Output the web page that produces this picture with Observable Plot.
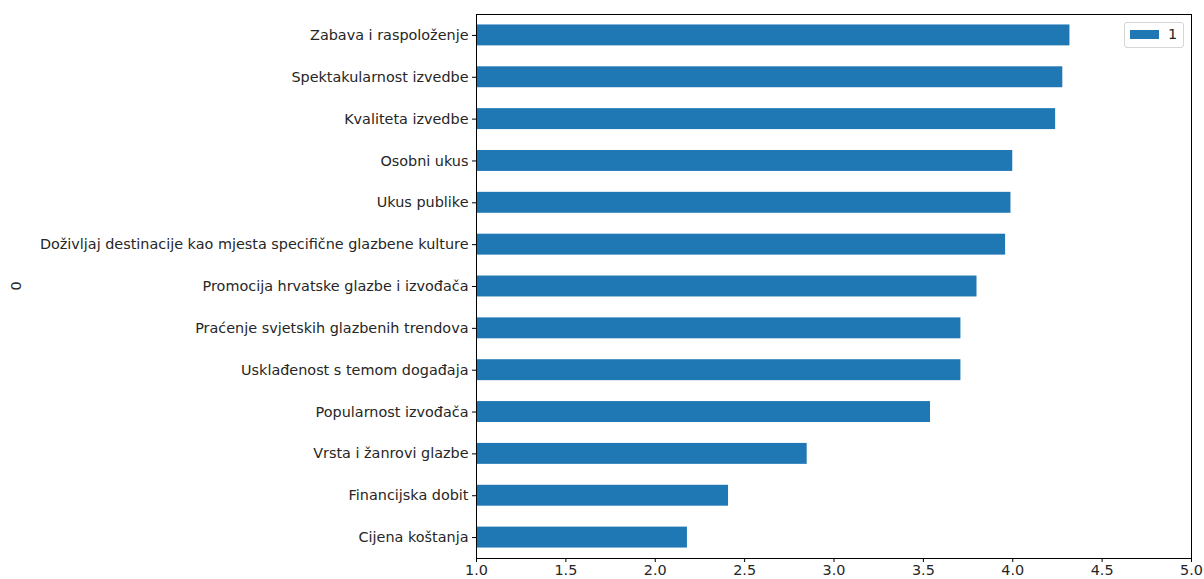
<!DOCTYPE html>
<html>
<head>
<meta charset="utf-8">
<script src="https://cdn.jsdelivr.net/npm/d3@7"></script>
<script src="https://cdn.jsdelivr.net/npm/@observablehq/plot@0.6"></script>
<style>
  html, body { margin: 0; padding: 0; background: #fff; }
  #wrap { position: relative; width: 1204px; height: 579px; }
  #legend {
    position: absolute; left: 1124px; top: 22px; width: 60px; height: 26px;
    border: 1px solid #d6d6d6; border-radius: 3px; background: #fff;
    font: 14.4px "DejaVu Sans", sans-serif; color: #262626; box-sizing: border-box;
  }
  #legend .sw { position: absolute; left: 5px; top: 7px; width: 29px; height: 9px; background: #1f77b4; }
  #legend .lb { position: absolute; left: 43px; top: 3px; line-height: 16px; }
</style>
</head>
<body>
<div id="wrap"></div>
<script>
const categories = [
  "Zabava i raspoloženje",
  "Spektakularnost izvedbe",
  "Kvaliteta izvedbe",
  "Osobni ukus",
  "Ukus publike",
  "Doživljaj destinacije kao mjesta specifične glazbene kulture",
  "Promocija hrvatske glazbe i izvođača",
  "Praćenje svjetskih glazbenih trendova",
  "Usklađenost s temom događaja",
  "Popularnost izvođača",
  "Vrsta i žanrovi glazbe",
  "Financijska dobit",
  "Cijena koštanja"
];
const values = [4.32, 4.28, 4.24, 4.00, 3.99, 3.96, 3.80, 3.71, 3.71, 3.54, 2.85, 2.41, 2.18];
const xTicks = [1.0, 1.5, 2.0, 2.5, 3.0, 3.5, 4.0, 4.5, 5.0];
const seriesName = "1";
const yLabel = "0";

const data = categories.map((c, i) => ({category: c, value: values[i]}));

const chart = Plot.plot({
  width: 1204,
  height: 579,
  marginLeft: 476,
  marginRight: 13,
  marginTop: 14,
  marginBottom: 21,
  style: {fontFamily: "'DejaVu Sans', sans-serif", fontSize: "14.4px", color: "#262626", background: "#fff", overflow: "visible"},
  x: {domain: [1, 5]},
  y: {domain: categories, paddingInner: 0.5, paddingOuter: 0.25, round: false},
  marks: [
    Plot.barX(data, {x1: 0, x2: "value", y: "category", fill: "#1f77b4", clip: true}),
    Plot.axisX({ticks: xTicks, tickFormat: d3.format(".1f"), tickSize: 4, tickPadding: 2, label: null, fontSize: 14.4, stroke: "#000"}),
    Plot.axisY({tickSize: 4, tickPadding: 4, label: null, fontSize: 14.4, stroke: "#000"}),
    Plot.text([yLabel], {frameAnchor: "left", dx: -460, dy: 4, rotate: -90, text: d => d, fontSize: 14.4}),
    Plot.frame({stroke: "#000", strokeWidth: 1})
  ]
});
const wrap = document.getElementById("wrap");
wrap.appendChild(chart);
const lg = document.createElement("div");
lg.id = "legend";
lg.innerHTML = '<div class="sw"></div><div class="lb"></div>';
lg.querySelector(".lb").textContent = seriesName;
wrap.appendChild(lg);
</script>
</body>
</html>
